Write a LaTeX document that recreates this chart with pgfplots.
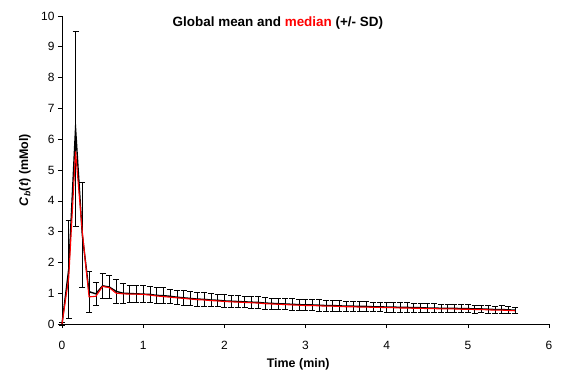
\documentclass[border=0pt]{standalone}
\usepackage{pgfplots}
\pgfplotsset{compat=1.18}
\usepackage{pgfplotstable}
\usepackage{fontspec}
\setmainfont{Liberation Sans}
\pgfplotstableread{
t mean sd med
0.000 0.00 0.05 0.00
0.083 1.78 1.58 1.50
0.167 6.35 3.17 5.60
0.250 2.90 1.70 3.00
0.333 1.05 0.67 0.88
0.417 0.98 0.37 0.90
0.500 1.24 0.40 1.22
0.583 1.20 0.38 1.18
0.667 1.06 0.38 1.00
0.750 1.00 0.32 0.98
0.833 0.99 0.28 0.97
0.917 0.98 0.27 0.97
1.000 0.97 0.28 0.96
1.083 0.96 0.26 0.94
1.167 0.93 0.25 0.91
1.250 0.92 0.26 0.89
1.333 0.90 0.24 0.87
1.417 0.87 0.24 0.85
1.500 0.85 0.24 0.83
1.583 0.83 0.23 0.81
1.667 0.81 0.22 0.79
1.750 0.80 0.22 0.78
1.833 0.78 0.21 0.76
1.917 0.77 0.20 0.75
2.000 0.75 0.20 0.73
2.083 0.74 0.19 0.72
2.167 0.73 0.20 0.71
2.250 0.72 0.19 0.70
2.333 0.71 0.19 0.69
2.417 0.70 0.19 0.68
2.500 0.68 0.19 0.66
2.583 0.67 0.18 0.65
2.667 0.66 0.19 0.64
2.750 0.65 0.18 0.63
2.833 0.64 0.18 0.62
2.917 0.63 0.18 0.61
3.000 0.62 0.18 0.60
3.083 0.62 0.17 0.60
3.167 0.61 0.18 0.59
3.250 0.60 0.17 0.58
3.333 0.60 0.17 0.58
3.417 0.59 0.17 0.57
3.500 0.58 0.17 0.56
3.583 0.58 0.17 0.56
3.667 0.57 0.16 0.55
3.750 0.57 0.17 0.55
3.833 0.56 0.16 0.54
3.917 0.56 0.16 0.54
4.000 0.55 0.16 0.53
4.083 0.55 0.16 0.53
4.167 0.54 0.15 0.52
4.250 0.54 0.15 0.52
4.333 0.53 0.15 0.51
4.417 0.53 0.15 0.51
4.500 0.52 0.14 0.50
4.583 0.52 0.14 0.50
4.667 0.51 0.14 0.49
4.750 0.51 0.14 0.49
4.833 0.51 0.13 0.49
4.917 0.50 0.13 0.48
5.000 0.50 0.13 0.48
5.083 0.49 0.13 0.47
5.167 0.49 0.12 0.47
5.250 0.48 0.13 0.46
5.333 0.47 0.12 0.45
5.417 0.47 0.13 0.45
5.500 0.46 0.12 0.44
5.583 0.45 0.11 0.43
}\datatable
\begin{document}
\begin{tikzpicture}
\useasboundingbox (-62bp,-53bp) rectangle (501bp,324bp);
\begin{axis}[
  at={(0,0)}, anchor=south west,
  width=487bp, height=308bp, scale only axis,
  xmin=0, xmax=6, ymin=0, ymax=10,
  axis x line*=bottom, axis y line*=left,
  axis line style={line width=0.6pt},
  xtick={0,1,2,3,4,5,6}, ytick={0,1,...,10},
  tick align=outside, major tick length=4bp,
  tick style={line width=0.6pt, black},
  /pgf/number format/assume math mode=true,
  tick label style={font=\fontsize{12}{14}\selectfont},
  x tick label style={yshift=-10bp},
  xlabel={\textbf{Time (min)}},
  ylabel={\textbf{\textit{C}\textsubscript{\textit{b}}(\textit{t}) (mMol)}},
  label style={font=\fontsize{12.5}{14}\selectfont},
  x label style={at={(axis description cs:0.485,0)}, anchor=center, yshift=-40bp},
  y label style={at={(axis description cs:-0.076,0.5)}, anchor=center},
  clip=false,
]
\addplot[black, line width=1.4pt, mark=none, miter limit=25,
  error bars/.cd, y dir=both, y explicit,
  error bar style={line width=0.5pt, black},
  error mark options={rotate=90, mark size=3bp, line width=0.5pt, black}]
  table[x=t, y=mean, y error=sd] {\datatable};
\addplot[red, line width=1.1pt, mark=none] table[x=t, y=med] {\datatable};
\node[font=\fontsize{13.5}{16}\selectfont\bfseries, anchor=center] at (axis cs:2.66,9.77)
  {Global mean and \textcolor{red}{median} (+/- SD)};
\end{axis}
\end{tikzpicture}
\end{document}
